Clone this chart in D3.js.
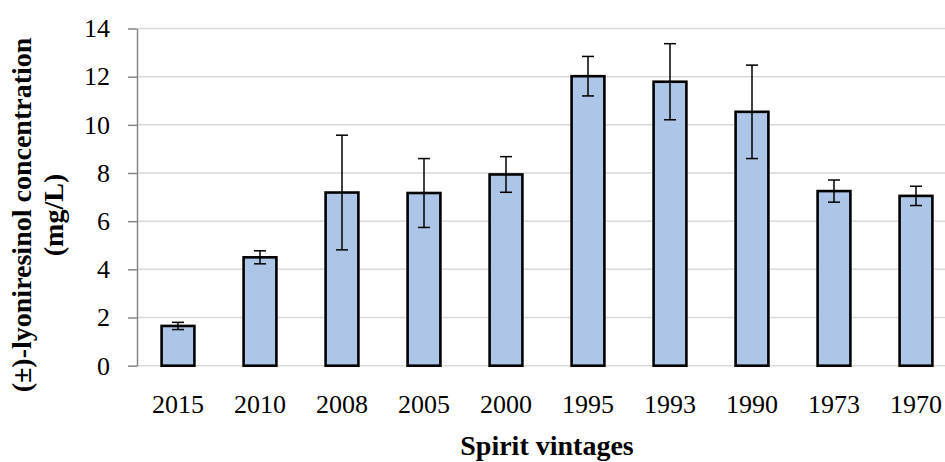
<!DOCTYPE html>
<html>
<head>
<meta charset="utf-8">
<script src="https://cdn.jsdelivr.net/npm/d3@7"></script>
<style>
  body { margin: 0; background: #fff; }
  svg { display: block; font-family: "Liberation Serif", "DejaVu Serif", serif; }
</style>
</head>
<body>
<div id="chart"></div>
<script>
// values
const vintages = ['2015', '2010', '2008', '2005', '2000', '1995', '1993', '1990', '1973', '1970'];
const concentration = [1.65, 4.50, 7.19, 7.17, 7.94, 12.02, 11.79, 10.54, 7.25, 7.05];
const errors = [0.15, 0.27, 2.38, 1.43, 0.74, 0.82, 1.58, 1.94, 0.46, 0.40];
const yTicks = [0, 2, 4, 6, 8, 10, 12, 14];

const width = 945, height = 462;
const margin = { top: 28.5, left: 137 };
const plotBottom = 365.7;
const plotRight = 957; // plot runs a bit past the right edge of the picture

const svg = d3.select('#chart').append('svg')
  .attr('width', width)
  .attr('height', height);

const x = d3.scaleBand()
  .domain(vintages)
  .range([margin.left, plotRight])
  .paddingInner(0.6)
  .paddingOuter(0.3);

const y = d3.scaleLinear().domain([0, 14]).range([plotBottom, margin.top]);

// gridlines
svg.append('g')
  .selectAll('line')
  .data(yTicks)
  .join('line')
  .attr('x1', margin.left)
  .attr('x2', plotRight)
  .attr('y1', d => y(d))
  .attr('y2', d => y(d))
  .attr('stroke', '#d9d9d9')
  .attr('stroke-width', 1.5);

// y axis
const yAxis = svg.append('g')
  .attr('transform', `translate(${margin.left},0)`)
  .call(d3.axisLeft(y).tickValues(yTicks).tickSize(9).tickPadding(18).tickSizeOuter(0));
yAxis.select('.domain').attr('stroke', '#868686').attr('stroke-width', 1.5);
yAxis.selectAll('.tick line').attr('stroke', '#868686').attr('stroke-width', 1.5);
yAxis.selectAll('.tick text')
  .attr('font-size', 26)
  .attr('font-family', '"Liberation Serif", serif')
  .attr('fill', '#000');

// x labels
const xAxis = svg.append('g')
  .attr('transform', `translate(0,${plotBottom})`)
  .call(d3.axisBottom(x).tickSize(0).tickPadding(0));
xAxis.select('.domain').remove();
xAxis.selectAll('.tick text')
  .attr('y', 47)
  .attr('dy', 0)
  .attr('font-size', 26)
  .attr('font-family', '"Liberation Serif", serif')
  .attr('fill', '#000');

// bars
svg.append('g')
  .selectAll('rect')
  .data(vintages)
  .join('rect')
  .attr('x', d => x(d))
  .attr('width', x.bandwidth())
  .attr('y', (d, i) => y(concentration[i]))
  .attr('height', (d, i) => y(0) - y(concentration[i]))
  .attr('fill', '#adc6e7')
  .attr('stroke', '#000')
  .attr('stroke-width', 2.6);

// error bars
const capW = 6;
const err = svg.append('g')
  .selectAll('g')
  .data(vintages)
  .join('g')
  .attr('stroke', '#000')
  .attr('stroke-width', 1.5);
err.append('line')
  .attr('x1', d => x(d) + x.bandwidth() / 2)
  .attr('x2', d => x(d) + x.bandwidth() / 2)
  .attr('y1', (d, i) => y(concentration[i] + errors[i]))
  .attr('y2', (d, i) => y(concentration[i] - errors[i]));
err.append('line')
  .attr('x1', d => x(d) + x.bandwidth() / 2 - capW)
  .attr('x2', d => x(d) + x.bandwidth() / 2 + capW)
  .attr('y1', (d, i) => y(concentration[i] + errors[i]))
  .attr('y2', (d, i) => y(concentration[i] + errors[i]));
err.append('line')
  .attr('x1', d => x(d) + x.bandwidth() / 2 - capW)
  .attr('x2', d => x(d) + x.bandwidth() / 2 + capW)
  .attr('y1', (d, i) => y(concentration[i] - errors[i]))
  .attr('y2', (d, i) => y(concentration[i] - errors[i]));

// axis titles
svg.append('text')
  .attr('x', 547)
  .attr('y', 455)
  .attr('text-anchor', 'middle')
  .attr('font-size', 28)
  .attr('font-weight', 'bold')
  .text('Spirit vintages');

const yTitle = svg.append('text')
  .attr('transform', 'translate(0,215) rotate(-90)')
  .attr('text-anchor', 'middle')
  .attr('font-size', 28)
  .attr('font-weight', 'bold');
yTitle.append('tspan').attr('x', 0).attr('y', 31).text('(±)-lyoniresinol concentration');
yTitle.append('tspan').attr('x', 0).attr('y', 63).text('(mg/L)');
</script>
</body>
</html>
